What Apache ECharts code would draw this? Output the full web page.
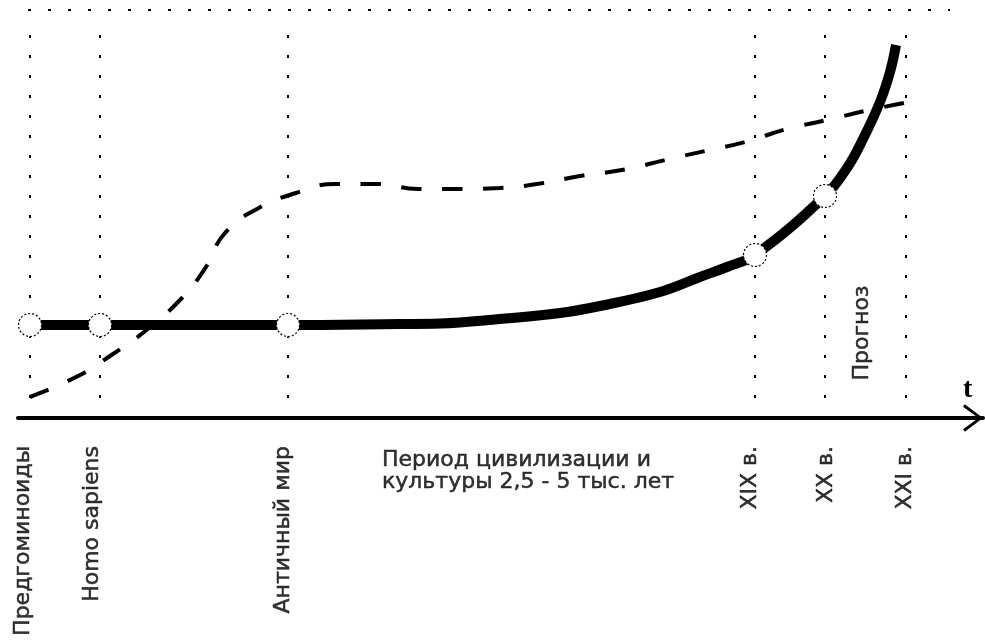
<!DOCTYPE html>
<html>
<head>
<meta charset="utf-8">
<script src="https://cdn.jsdelivr.net/npm/echarts@6/dist/echarts.min.js"></script>
<style>
html,body{margin:0;padding:0;background:#fff;}
#c{width:985px;height:641px;}
</style>
</head>
<body>
<div id="c"></div>
<script>
// ---- data (time axis units, level units) ----
const eraNames = ['Предгоминоиды', 'Homo sapiens', 'Античный мир', 'XIX в.', 'XX в.', 'XXI в.'];
const eraT = [12, 82, 270, 737, 807, 888];
const periodText = 'Период цивилизации и\nкультуры 2,5 - 5 тыс. лет';
const periodT = 364;
const forecastText = 'Прогноз';
const forecastT = 844;
const axisName = 't';

// thick solid curve
const solidT = [12, 82, 270, 382, 422, 482, 542, 582, 642, 682, 709, 737, 807, 829, 845, 862, 872, 878];
const solidV = [93, 93, 93, 94, 94.5, 99, 105, 112, 126, 141, 151, 163, 222, 250, 279, 316, 346, 373];

// dashed curve
const dashT = [12, 60, 95, 126, 160, 186, 207, 239, 278, 318, 360, 400, 442, 482, 522, 562, 607, 647, 687, 727, 769, 809, 847, 886];
const dashV = [21, 42, 64, 86, 116, 148, 185, 209, 225, 234, 234, 229, 229, 230, 234.5, 242, 248.5, 258, 267, 276, 289, 298, 307, 315];

// nodes on the solid curve
const nodeT = [12, 82, 270, 737, 807];
const nodeV = [93, 93, 93, 163, 222];

// ---- chart ----
const FONT = 'DejaVu Sans';
const zip = (a, b) => a.map((v, i) => [v, b[i]]);
const rotDx = [-7, -8, -5, -5, 1, -1];
const txt = { fontFamily: FONT, fontSize: 22, color: '#000', textBorderColor: '#000', textBorderWidth: 0.5 };

const labelData = eraNames.map((n, i) => ({
  value: [eraT[i] + rotDx[i], -28],
  label: Object.assign({
    show: true, formatter: n, rotate: 90, position: [0, 0],
    align: 'right', verticalAlign: 'middle'
  }, txt)
}));
labelData.push({
  value: [periodT, -31],
  label: Object.assign({
    show: true, formatter: periodText, position: [0, 0],
    align: 'left', verticalAlign: 'top', lineHeight: 22
  }, txt)
});
labelData.push({
  value: [forecastT, 85],
  label: Object.assign({
    show: true, formatter: forecastText, rotate: 90, position: [0, 0],
    align: 'center', verticalAlign: 'middle'
  }, txt)
});

const dotted = { color: '#000', width: 2, type: [3, 17] };

const chart = echarts.init(document.getElementById('c'), null, { renderer: 'canvas' });
chart.setOption({
  animation: false,
  backgroundColor: '#fff',
  grid: { left: 18, right: 2, top: 10, bottom: 0 },
  xAxis: {
    type: 'value', min: 0, max: 965,
    axisLine: {
      onZero: true,
      lineStyle: { color: '#000', width: 4 },
      symbol: ['none', 'path://M15,0 L30,20 L27.5,22 L15,5 L2.5,22 L0,20 Z'],
      symbolSize: [28, 20],
      symbolOffset: [0, -10]
    },
    axisTick: { show: false },
    axisLabel: { show: false },
    splitLine: { show: false },
    name: axisName,
    nameLocation: 'end',
    nameGap: -20,
    nameTextStyle: {
      fontFamily: 'Liberation Serif', fontWeight: 'bold', fontSize: 28, color: '#000',
      verticalAlign: 'bottom', padding: [0, 0, 14, 0]
    }
  },
  yAxis: {
    type: 'value', min: -223, max: 408, show: false,
    splitLine: { show: false }
  },
  series: [
    {
      name: 'frame', type: 'line', clip: false, silent: true,
      data: [[-10, 408], [932, 408]],
      symbol: 'none', lineStyle: dotted,
      markLine: {
        silent: true, symbol: ['none', 'none'], label: { show: false },
        lineStyle: dotted,
        data: eraT.map(t => [{ coord: [t, 20] }, { coord: [t, 395] }])
      }
    },
    {
      name: 'dashed', type: 'line', smooth: 0.5, silent: true,
      data: zip(dashT, dashV), symbol: 'none',
      lineStyle: { color: '#000', width: 4, type: [20, 21] }
    },
    {
      name: 'solid', type: 'line', smooth: 0.4, silent: true,
      data: zip(solidT, solidV), symbol: 'none',
      lineStyle: { color: '#000', width: 10 }
    },
    {
      name: 'nodes', type: 'scatter', silent: true, z: 5,
      data: zip(nodeT, nodeV), symbol: 'circle', symbolSize: 23,
      itemStyle: { color: '#fff', opacity: 1, borderColor: '#000', borderWidth: 1.2, borderType: [2, 2] }
    },
    {
      name: 'labels', type: 'scatter', silent: true, clip: false,
      symbolSize: 0, data: labelData
    }
  ]
});
</script>
</body>
</html>
